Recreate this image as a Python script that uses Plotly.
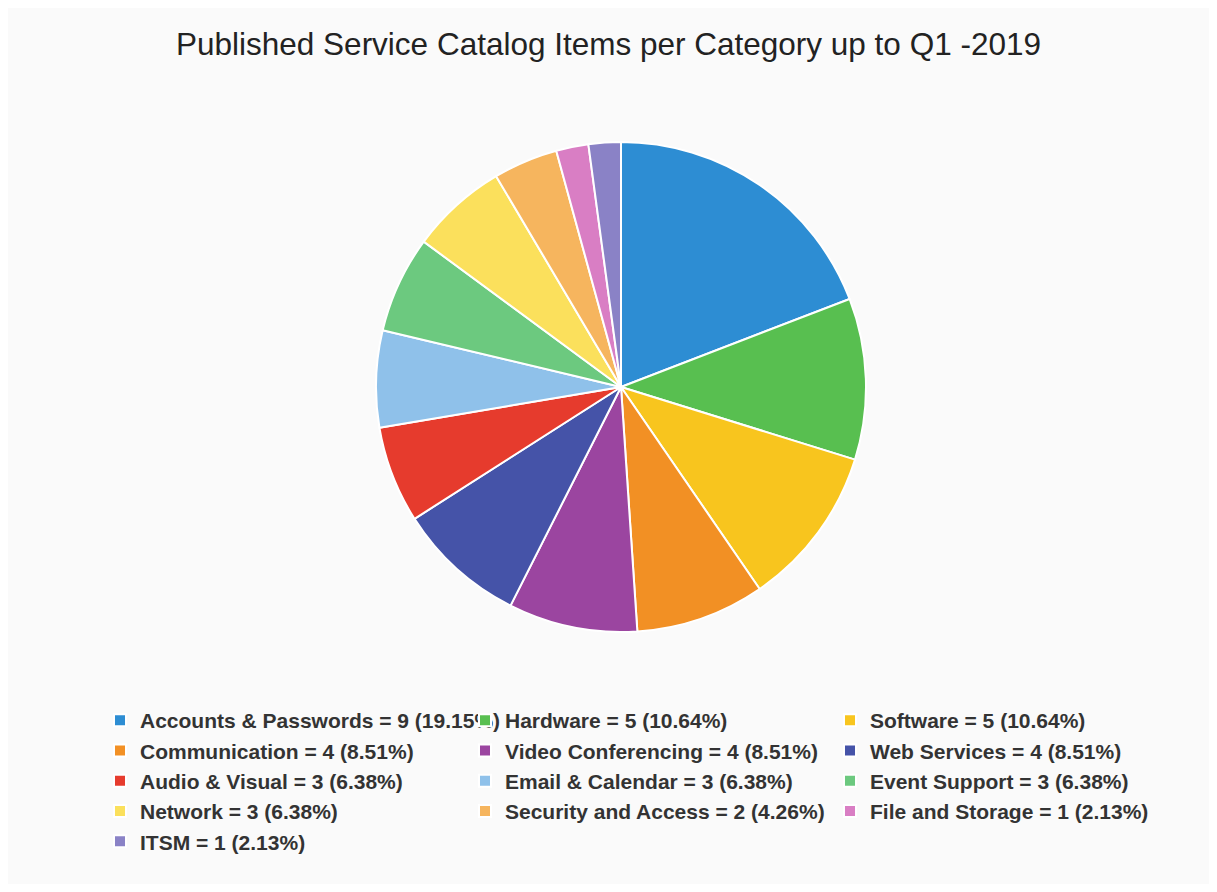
import plotly.graph_objects as go

categories = ["Accounts & Passwords", "Hardware", "Software", "Communication",
              "Video Conferencing", "Web Services", "Audio & Visual", "Email & Calendar",
              "Event Support", "Network", "Security and Access", "File and Storage", "ITSM"]
counts = [9, 5, 5, 4, 4, 4, 3, 3, 3, 3, 2, 1, 1]
colors = ["#2d8dd3", "#58bf50", "#f8c51e", "#f29024", "#9b45a0", "#4553a8", "#e63b2d",
          "#8fc1ea", "#6cc97f", "#fbe05c", "#f6b55e", "#d97ec4", "#8a82c6"]

total = sum(counts)
labels = [f"{c} = {n} ({n / total * 100:.2f}%)" for c, n in zip(categories, counts)]

# page body has an 8px margin; figure spans the visible area
OFF = 8
W, H = 1201, 876
cx, cy, r = 621 - OFF, 387 - OFF, 245

fig = go.Figure(go.Pie(
    labels=labels,
    values=counts,
    sort=False,
    direction="clockwise",
    rotation=0,
    textinfo="none",
    marker=dict(colors=colors, line=dict(color="white", width=2)),
    domain=dict(x=[(cx - r) / W, (cx + r) / W], y=[(H - cy - r) / H, (H - cy + r) / H]),
))

fig.update_layout(
    width=W, height=H,
    margin=dict(l=0, r=0, t=0, b=0),
    paper_bgcolor="#fafafa",
    plot_bgcolor="#fafafa",
    font=dict(family="Liberation Sans, Arial, sans-serif", color="#333333"),
    title=dict(text="Published Service Catalog Items per Category up to Q1 -2019",
               x=0.5, xanchor="center", y=1 - (44 - OFF) / H, yanchor="middle",
               font=dict(size=31.5, color="#222222")),
    legend=dict(orientation="h", x=(100 - OFF) / W, xanchor="left",
                y=1 - (700 - OFF) / H, yanchor="top",
                entrywidth=320, entrywidthmode="pixels",
                font=dict(size=21, weight="bold", color="#333333"),
                bgcolor="rgba(0,0,0,0)"),
)

fig.write_html("out.html")
